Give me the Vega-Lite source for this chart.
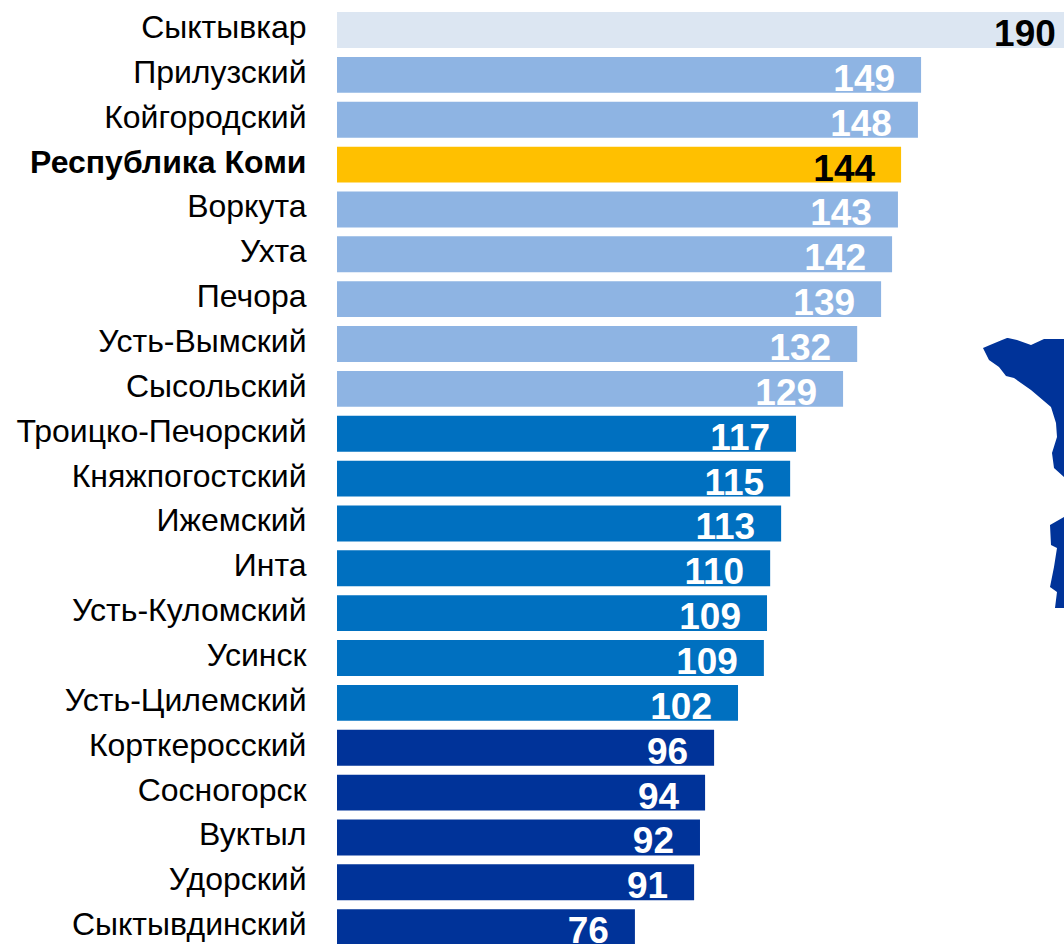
{
"$schema":"https://vega.github.io/schema/vega-lite/v6.json",
"width":727,"height":936,
"autosize":"none",
"padding":{"left":337,"top":7.6,"right":0,"bottom":0},
"background":"white",
"config":{"view":{"stroke":null},"font":"Liberation Sans"},
"datasets":{
"bars":[
{"name":"Сыктывкар","value":190,"label":"190","group":"a"},
{"name":"Прилузский","value":149,"label":"149","group":"b"},
{"name":"Койгородский","value":148.2,"label":"148","group":"b"},
{"name":"Республика Коми","value":143.9,"label":"144","group":"r"},
{"name":"Воркута","value":143.1,"label":"143","group":"b"},
{"name":"Ухта","value":141.6,"label":"142","group":"b"},
{"name":"Печора","value":138.8,"label":"139","group":"b"},
{"name":"Усть-Вымский","value":132.7,"label":"132","group":"b"},
{"name":"Сысольский","value":129.1,"label":"129","group":"b"},
{"name":"Троицко-Печорский","value":117.1,"label":"117","group":"c"},
{"name":"Княжпогостский","value":115.6,"label":"115","group":"c"},
{"name":"Ижемский","value":113.3,"label":"113","group":"c"},
{"name":"Инта","value":110.5,"label":"110","group":"c"},
{"name":"Усть-Куломский","value":109.7,"label":"109","group":"c"},
{"name":"Усинск","value":108.9,"label":"109","group":"c"},
{"name":"Усть-Цилемский","value":102.3,"label":"102","group":"c"},
{"name":"Корткеросский","value":96.2,"label":"96","group":"d"},
{"name":"Сосногорск","value":93.9,"label":"94","group":"d"},
{"name":"Вуктыл","value":92.6,"label":"92","group":"d"},
{"name":"Удорский","value":91.1,"label":"91","group":"d"},
{"name":"Сыктывдинский","value":76,"label":"76","group":"d"}
],
"map":[
{"part":"u","mx":1007,"my":338,"mx2":1008},
{"part":"u","mx":1002,"my":340,"mx2":1017},
{"part":"u","mx":990,"my":345,"mx2":1031},
{"part":"u","mx":983,"my":348,"mx2":1064},
{"part":"v","mx":1044,"my":339,"mx2":1064},
{"part":"v","mx":1031,"my":345,"mx2":1064},
{"part":"v","mx":1031,"my":348,"mx2":1064},
{"part":"w","mx":983,"my":348,"mx2":1064},
{"part":"w","mx":989,"my":360,"mx2":1064},
{"part":"w","mx":999,"my":367,"mx2":1064},
{"part":"w","mx":1006,"my":376,"mx2":1064},
{"part":"w","mx":1014,"my":378,"mx2":1064},
{"part":"w","mx":1031,"my":390,"mx2":1064},
{"part":"w","mx":1051,"my":407,"mx2":1064},
{"part":"w","mx":1056,"my":423,"mx2":1064},
{"part":"w","mx":1057,"my":437,"mx2":1064},
{"part":"w","mx":1052,"my":453,"mx2":1064},
{"part":"w","mx":1054,"my":468,"mx2":1064},
{"part":"w","mx":1064,"my":477,"mx2":1064},
{"part":"x","mx":1064,"my":517,"mx2":1064},
{"part":"x","mx":1050,"my":525,"mx2":1064},
{"part":"x","mx":1051,"my":545,"mx2":1064},
{"part":"x","mx":1057,"my":548,"mx2":1064},
{"part":"x","mx":1054,"my":567,"mx2":1064},
{"part":"x","mx":1050,"my":587,"mx2":1064},
{"part":"x","mx":1057,"my":592,"mx2":1064},
{"part":"x","mx":1055,"my":608,"mx2":1064}
]
},
"layer":[
{"data":{"name":"map"},
 "mark":{"type":"area","orient":"horizontal","color":"#003399","interpolate":"linear"},
 "encoding":{
  "y":{"field":"my","type":"quantitative","scale":{"domain":[7.6,943.6],"range":[0,936],"nice":false,"zero":false},"axis":null},
  "x":{"field":"mx","type":"quantitative","scale":{"domain":[337,1064],"nice":false,"zero":false},"axis":null},
  "x2":{"field":"mx2"},
  "detail":{"field":"part"}
 }},
{"data":{"name":"bars"},
 "resolve":{"scale":{"x":"shared","y":"shared"}},
 "layer":[
 {"mark":{"type":"bar"},
  "encoding":{
   "y":{"field":"name","type":"nominal","sort":null,
    "scale":{"range":[0,942],"paddingInner":0.2,"paddingOuter":0.1},
    "axis":{"title":null,"domain":false,"ticks":false,"grid":false,"labelPadding":31,"labelFontSize":32,"labelFont":"Liberation Sans","labelColor":"black","labelOffset":8,"labelBaseline":"alphabetic","labelLimit":330,"labelFontWeight":{"condition":{"test":"datum.value==='Республика Коми'","value":"bold"},"value":"normal"}}},
   "x":{"field":"value","type":"quantitative","scale":{"domain":[0,185.46],"nice":false,"zero":true},"axis":null},
   "color":{"field":"group","type":"nominal","legend":null,"scale":{"domain":["a","b","r","c","d"],"range":["#DCE6F2","#8EB4E3","#FFC000","#0070C0","#003399"]}}
  }},
 {"mark":{"type":"text","align":"right","baseline":"alphabetic","dx":-26,"dy":16,"fontSize":37,"fontWeight":"bold","font":"Liberation Sans"},
  "encoding":{
   "y":{"field":"name","type":"nominal","sort":null},
   "x":{"field":"value","type":"quantitative"},
   "text":{"field":"label"},
   "color":{"condition":{"test":"datum.group==='a'||datum.group==='r'","value":"black"},"value":"white"}
  }}
 ]}
],
"resolve":{"scale":{"x":"independent","y":"independent"},"axis":{"y":"independent"}}
}
